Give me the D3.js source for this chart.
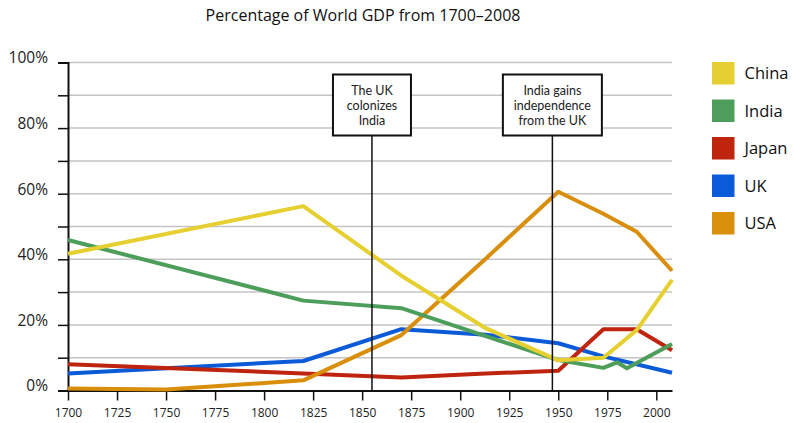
<!DOCTYPE html>
<html>
<head>
<meta charset="utf-8">
<script src="https://cdn.jsdelivr.net/npm/d3@7"></script>
<style>
  html, body { margin: 0; padding: 0; background: #fff; }
  svg { display: block; font-family: "Open Sans", "Noto Sans", sans-serif; }
</style>
</head>
<body>
<svg id="chart" width="793" height="423"></svg>
<script>
// Share of world GDP (%) by country, read at each benchmark year
const years = [1700, 1750, 1820, 1870, 1913, 1950, 1973, 1980, 1985, 1990, 2008];
const china = [41.7, null, 56.2, 35.0, 19.0, 9.2, 10.0, null, null, 18.4, 33.7];
const india = [45.9, null, 27.4, 25.1, 16.6, 9.3, 6.9, 8.6, 6.8, null, 14.2];
const japan = [8.0, null, 5.2, 4.0, 5.2, 6.0, 18.7, null, null, 18.7, 12.3];
const uk    = [5.2, null, 9.0, 18.7, 17.0, 14.4, 10.4, null, null, null, 5.4];
const usa   = [0.6, 0.3, 3.1, 16.9, 40.2, 60.6, 53.9, null, null, 48.4, 36.5];

const seriesNames = ["China", "India", "Japan", "UK", "USA"];
const seriesValues = [china, india, japan, uk, usa];
const seriesColors = ["#e6cf30", "#4d9e5b", "#bf240e", "#0b5bd8", "#d98f0c"];

const xTicks = [1700, 1725, 1750, 1775, 1800, 1825, 1850, 1875, 1900, 1925, 1950, 1975, 2000];
const yTicks = [0, 10, 20, 30, 40, 50, 60, 70, 80, 90, 100];
const yLabelled = [0, 20, 40, 60, 80, 100];

// Historical events marked on the timeline
const eventYears = [1855, 1947];
const eventLabels = [["The UK", "colonizes", "India"], ["India gains", "independence", "from the UK"]];

const title = "Percentage of World GDP from 1700\u20132008";

// ---- layout ----
const svg = d3.select("#chart");
const x = d3.scaleLinear().domain([1700, 2008]).range([68, 672]);
const y = d3.scaleLinear().domain([0, 100]).range([390.5, 62.5]);
const boxWidths = [78, 99];
const boxTop = 74.5, boxHeight = 61;

// title
svg.append("text")
  .attr("x", 363).attr("y", 21)
  .attr("text-anchor", "middle")
  .attr("font-size", 16)
  .attr("fill", "#111")
  .text(title);

// horizontal gridlines
svg.append("g")
  .selectAll("line")
  .data(yTicks.filter(d => d > 0))
  .join("line")
  .attr("x1", x(1700)).attr("x2", x(2008))
  .attr("y1", d => y(d)).attr("y2", d => y(d))
  .attr("stroke", "#c4c4c4")
  .attr("stroke-width", 1.5);

// y axis
const yAxis = d3.axisLeft(y)
  .tickValues(yTicks)
  .tickSize(10)
  .tickPadding(10)
  .tickFormat(d => yLabelled.includes(d) ? d + "%" : "");
const gy = svg.append("g").attr("transform", `translate(${x(1700)},0)`).call(yAxis);
gy.select(".domain").attr("stroke", "#111").attr("stroke-width", 2);
gy.selectAll(".tick line").attr("stroke", "#111").attr("stroke-width", 1.5);
gy.selectAll(".tick text")
  .attr("font-size", 15.5)
  .attr("font-family", "\"Open Sans\", sans-serif")
  .attr("fill", "#222")
  .attr("dy", "0.02em");

// x axis
const xAxis = d3.axisBottom(x)
  .tickValues(xTicks)
  .tickSize(10)
  .tickSizeOuter(0)
  .tickPadding(8)
  .tickFormat(d3.format("d"));
const gx = svg.append("g").attr("transform", `translate(0,${y(0)})`).call(xAxis);
gx.select(".domain").attr("stroke", "#111").attr("stroke-width", 2);
gx.selectAll(".tick line").attr("stroke", "#111").attr("stroke-width", 1.5);
gx.selectAll(".tick text")
  .attr("font-size", 12)
  .attr("font-family", "\"Open Sans\", sans-serif")
  .attr("fill", "#222");

// series lines
const line = d3.line()
  .x(d => x(d[0]))
  .y(d => y(d[1]));

const drawOrder = [3, 2, 4, 1, 0];
svg.append("g")
  .selectAll("path")
  .data(drawOrder)
  .join("path")
  .attr("d", i => line(years.map((yr, k) => [yr, seriesValues[i][k]]).filter(p => p[1] != null)))
  .attr("fill", "none")
  .attr("stroke", i => seriesColors[i])
  .attr("stroke-width", 4)
  .attr("stroke-linejoin", "round");

// event markers
const ev = svg.append("g")
  .selectAll("g")
  .data(eventYears)
  .join("g");

ev.append("line")
  .attr("x1", d => x(d)).attr("x2", d => x(d))
  .attr("y1", boxTop + boxHeight).attr("y2", y(0))
  .attr("stroke", "#111")
  .attr("stroke-width", 1.5);

ev.append("rect")
  .attr("x", (d, i) => x(d) - boxWidths[i] / 2)
  .attr("y", boxTop)
  .attr("width", (d, i) => boxWidths[i])
  .attr("height", boxHeight)
  .attr("fill", "#fff")
  .attr("stroke", "#111")
  .attr("stroke-width", 2);

// one text element per label line, so the lines stay clear of each other
ev.each(function(d, i) {
  d3.select(this).selectAll("text.event-label")
    .data(eventLabels[i])
    .join("text")
    .attr("class", "event-label")
    .attr("x", x(d))
    .attr("y", (s, k) => boxTop + 20 + k * 15)
    .attr("text-anchor", "middle")
    .attr("font-family", "Lato, \"Open Sans\", sans-serif")
    .attr("font-size", 12.5)
    .attr("fill", "#222")
    .text(s => s);
});

// legend
const lg = svg.append("g")
  .selectAll("g")
  .data(seriesNames)
  .join("g")
  .attr("transform", (d, i) => `translate(712,${62 + i * 37.5})`);

lg.append("rect")
  .attr("width", 22.5).attr("height", 22.5)
  .attr("fill", (d, i) => seriesColors[i]);

lg.append("text")
  .attr("x", 32.5).attr("y", 11.25)
  .attr("dy", "0.36em")
  .attr("font-size", 16.5)
  .attr("fill", "#111")
  .text(d => d);
</script>
</body>
</html>
